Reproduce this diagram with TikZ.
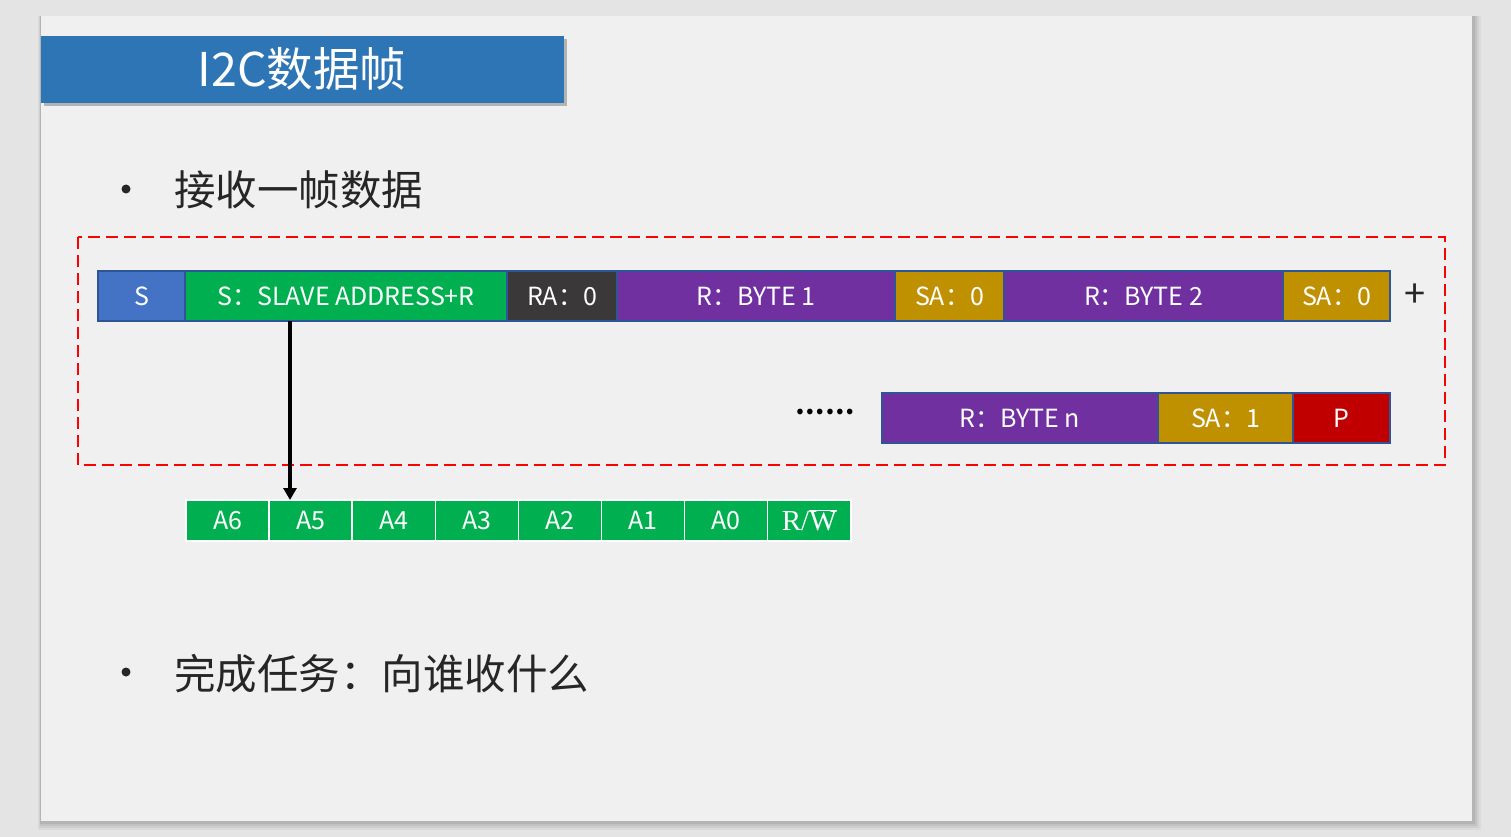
\documentclass[tikz,border=0pt]{standalone}
\usepackage{fontspec}
\setmainfont{Noto Sans CJK SC}
\newfontfamily\rwserif{Liberation Serif}
\usetikzlibrary{arrows.meta}
\definecolor{pagebg}{HTML}{E4E4E4}
\definecolor{slidebg}{HTML}{F0F0F0}
\definecolor{titleblue}{HTML}{2E75B6}
\definecolor{frameblue}{HTML}{2F5597}
\definecolor{sblue}{HTML}{4472C4}
\definecolor{addrgreen}{HTML}{00B050}
\definecolor{ackdark}{HTML}{3A3838}
\definecolor{bytepurple}{HTML}{7030A0}
\definecolor{ackgold}{HTML}{BF9000}
\definecolor{stopred}{HTML}{C00000}
\definecolor{dashred}{HTML}{FF0000}
\tikzset{
  cell/.style={draw=frameblue, line width=1.2pt, inner sep=0pt, outer sep=0pt,
    minimum height=50pt, text=white, font=\fontsize{25}{28}\selectfont},
  bitcell/.style={draw=white, line width=1.5pt, fill=addrgreen, inner sep=0pt,
    outer sep=0pt, minimum height=41pt, minimum width=83.1pt, text=white,
    font=\fontsize{25}{28}\selectfont},
  bullet/.style={anchor=west, inner sep=0pt, font=\fontsize{41.5}{46}\selectfont, text=black!85},
  dot/.style={circle, fill=black!85, inner sep=0pt, minimum size=9pt},
}
\begin{document}
\begin{tikzpicture}[x=1pt,y=-1pt]
\useasboundingbox (0,0) rectangle (1511,837);
% page and slide with soft shadow
\fill[pagebg] (0,0) rectangle (1511,837);
\foreach \d/\o in {9/0.04,7/0.05,5/0.06,3/0.07}
  \fill[black,opacity=\o] (41-\d*0.3,16) rectangle (1472+\d,821+\d);
\fill[slidebg] (41,16) rectangle (1472,821);
% title bar
\fill[black,opacity=0.25] (44,39) rectangle (567,106);
\fill[titleblue] (41,36) rectangle (564,103);
\node[text=white, font=\fontsize{46.5}{52}\selectfont, inner sep=0pt] (title) at (302,69) {I2C数据帧};
% bullets
\node[dot] (b1dot) at (126,189) {};
\node[bullet] (b1) at (174,190) {接收一帧数据};
\node[dot] (b2dot) at (126,672) {};
\node[bullet] (b2) at (174,674) {完成任务：向谁收什么};
% dashed frame around the frame layout
\draw[dashred, line width=1.6pt, dash pattern=on 12pt off 6pt] (78,237) rectangle (1445,465);
% first row of the frame
\node[cell, fill=sblue, minimum width=87pt] (s) at (141.5,296) {S};
\node[cell, fill=addrgreen, minimum width=322pt] (addr) at (346,296) {S：SLAVE ADDRESS+R};
\node[cell, fill=ackdark, minimum width=110pt] (ra) at (562,296) {RA：0};
\node[cell, fill=bytepurple, minimum width=278pt] (byte1) at (756,296) {R：BYTE 1};
\node[cell, fill=ackgold, minimum width=109pt] (sa1) at (949.5,296) {SA：0};
\node[cell, fill=bytepurple, minimum width=279pt] (byte2) at (1143.5,296) {R：BYTE 2};
\node[cell, fill=ackgold, minimum width=107pt] (sa2) at (1336.5,296) {SA：0};
\node[font=\fontsize{38}{42}\selectfont, text=black!85, inner sep=0pt] (plus) at (1415,296) {+};
% second row of the frame
\node[font=\fontsize{26}{30}\selectfont\bfseries, inner sep=0pt] (dots) at (825,412) {……};
\node[cell, fill=bytepurple, minimum width=276pt] (byten) at (1020,418) {R：BYTE n};
\node[cell, fill=ackgold, minimum width=135pt] (san) at (1225.5,418) {SA：1};
\node[cell, fill=stopred, minimum width=97pt] (stop) at (1341.5,418) {P};
% address byte broken into bits
\foreach \lbl [count=\i from 0] in {A6,A5,A4,A3,A2,A1,A0}
  \node[bitcell] (bit\i) at (186+41.55+83.1*\i,520.5) {\lbl};
\node[bitcell, font=\fontsize{29}{32}\selectfont\rwserif] (bit7) at (186+41.55+83.1*7,520.5)
  {\raisebox{-2pt}{R/$\overline{\hbox{\rwserif W}}$}};
% pointer from the address field down to the bits
\coordinate (tap) at (290,321);
\draw[line width=3.2pt, -{Triangle[length=12pt,width=13pt]}] (tap) -- (tap |- bit1.north);
\end{tikzpicture}
\end{document}
